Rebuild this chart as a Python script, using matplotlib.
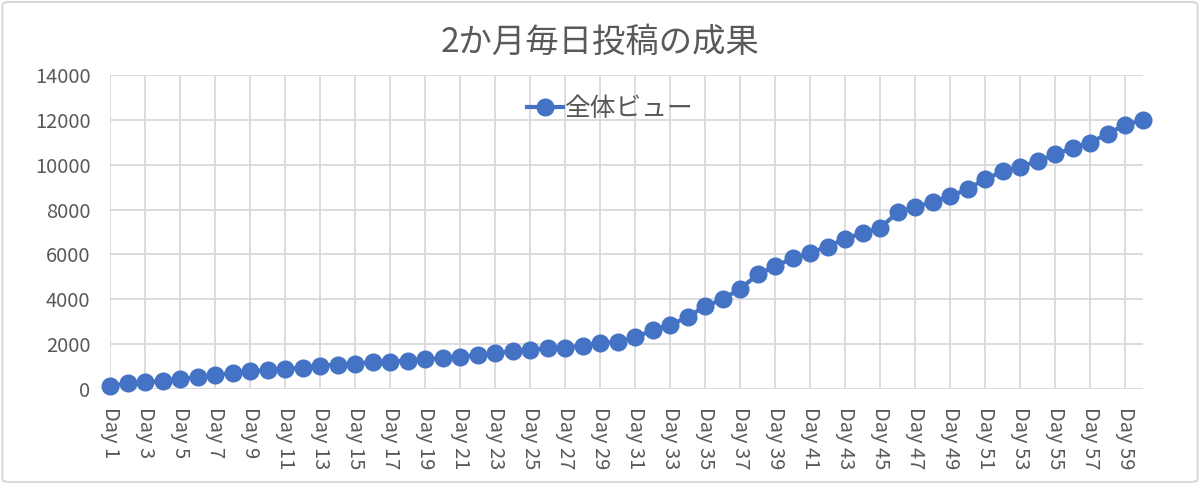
import numpy as np
import matplotlib
matplotlib.use('Agg')
import matplotlib.pyplot as plt
from matplotlib.patches import FancyBboxPatch

plt.rcParams['font.family'] = ['Noto Sans CJK JP', 'DejaVu Sans']

title = '2か月毎日投稿の成果'
series_name = '全体ビュー'

days = ['Day {}'.format(i) for i in range(1, 61)]
views = [130, 255, 300, 370, 435, 525, 630, 705, 805, 835,
         895, 955, 1030, 1090, 1120, 1210, 1225, 1270, 1330, 1370,
         1440, 1520, 1590, 1700, 1740, 1820, 1840, 1930, 2040, 2110,
         2300, 2630, 2840, 3230, 3680, 4010, 4470, 5110, 5480, 5830,
         6085, 6350, 6710, 6950, 7200, 7880, 8100, 8360, 8600, 8920,
         9370, 9700, 9900, 10180, 10460, 10750, 10990, 11390, 11790, 11990]

blue = '#4472C4'
grid = '#D9D9D9'
text = '#595959'

fig = plt.figure(figsize=(12, 4.84), dpi=100)
ax = fig.add_axes([0.0917, 0.1963, 0.8608, 0.6487])

x = np.arange(len(days))
ax.plot(x, views, 'o-', color=blue, lw=3, ms=12, label=series_name,
        clip_on=False, zorder=3)

ax.set_xlim(0, len(days) - 1)
ax.set_ylim(0, 14000)
ax.set_yticks(np.arange(0, 14001, 2000))
ax.set_xticks(x[::2])
ax.set_xticklabels(days[::2], rotation=270, va='top', ha='center')

ax.grid(True, color=grid, lw=1.3)
ax.set_axisbelow(True)
for s in ax.spines.values():
    s.set_visible(False)
ax.tick_params(length=0, labelsize=14.5, labelcolor=text)
ax.tick_params(axis='y', pad=14)
ax.tick_params(axis='x', pad=13)

fig.text(0.5, 0.913, title, ha='center', va='center', fontsize=24, color=text)

ax.legend(loc='center', bbox_to_anchor=(0.484, 0.892), frameon=False,
          fontsize=18.5, handlelength=1.4, handletextpad=0.05, labelcolor=text)

border = FancyBboxPatch((0.002, 0.004), 0.996, 0.992, transform=fig.transFigure,
                        boxstyle='round,pad=0,rounding_size=0.006',
                        fill=False, ec=grid, lw=1.5)
fig.patches.append(border)

plt.savefig('out.png')
